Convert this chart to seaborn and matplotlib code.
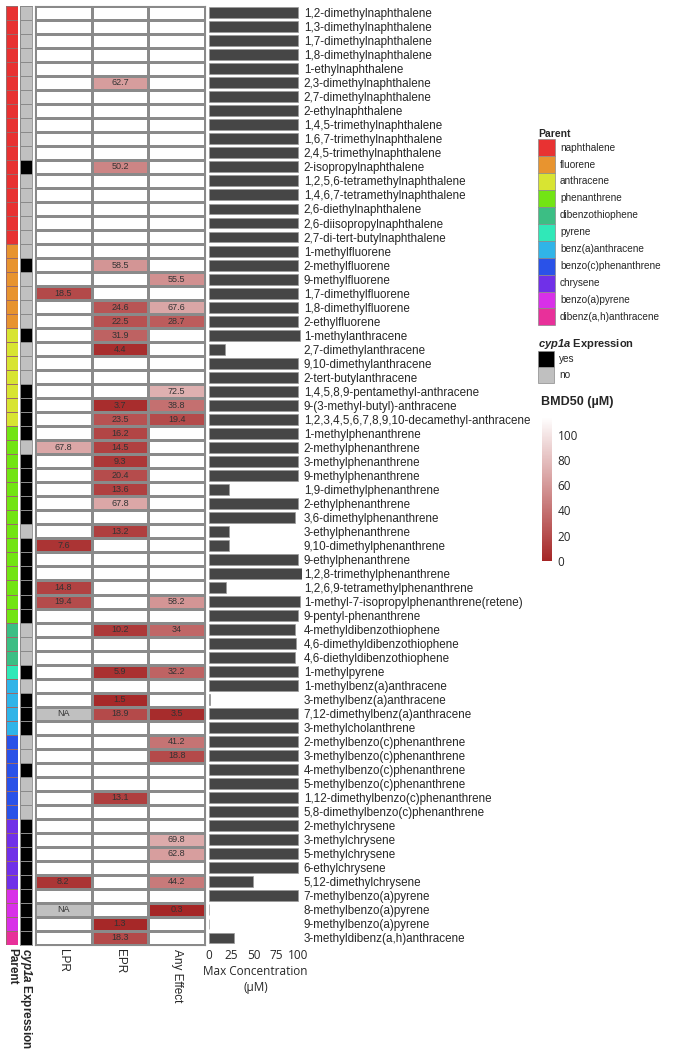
import numpy as np
import pandas as pd
import matplotlib
matplotlib.use("Agg")
import matplotlib.pyplot as plt
import seaborn as sns
from matplotlib.colors import ListedColormap, LinearSegmentedColormap
from matplotlib.patches import Patch

_ = None

compounds = [
    "1,2-dimethylnaphthalene", "1,3-dimethylnaphthalene", "1,7-dimethylnaphthalene",
    "1,8-dimethylnaphthalene", "1-ethylnaphthalene", "2,3-dimethylnaphthalene",
    "2,7-dimethylnaphthalene", "2-ethylnaphthalene", "1,4,5-trimethylnaphthalene",
    "1,6,7-trimethylnaphthalene", "2,4,5-trimethylnaphthalene", "2-isopropylnaphthalene",
    "1,2,5,6-tetramethylnaphthalene", "1,4,6,7-tetramethylnaphthalene", "2,6-diethylnaphthalene",
    "2,6-diisopropylnaphthalene", "2,7-di-tert-butylnaphthalene", "1-methylfluorene",
    "2-methylfluorene", "9-methylfluorene", "1,7-dimethylfluorene", "1,8-dimethylfluorene",
    "2-ethylfluorene", "1-methylanthracene", "2,7-dimethylanthracene", "9,10-dimethylanthracene",
    "2-tert-butylanthracene", "1,4,5,8,9-pentamethyl-anthracene", "9-(3-methyl-butyl)-anthracene",
    "1,2,3,4,5,6,7,8,9,10-decamethyl-anthracene", "1-methylphenanthrene", "2-methylphenanthrene",
    "3-methylphenanthrene", "9-methylphenanthrene", "1,9-dimethylphenanthrene",
    "2-ethylphenanthrene", "3,6-dimethylphenanthrene", "3-ethylphenanthrene",
    "9,10-dimethylphenanthrene", "9-ethylphenanthrene", "1,2,8-trimethylphenanthrene",
    "1,2,6,9-tetramethylphenanthrene", "1-methyl-7-isopropylphenanthrene(retene)",
    "9-pentyl-phenanthrene", "4-methyldibenzothiophene", "4,6-dimethyldibenzothiophene",
    "4,6-diethyldibenzothiophene", "1-methylpyrene", "1-methylbenz(a)anthracene",
    "3-methylbenz(a)anthracene", "7,12-dimethylbenz(a)anthracene", "3-methylcholanthrene",
    "2-methylbenzo(c)phenanthrene", "3-methylbenzo(c)phenanthrene", "4-methylbenzo(c)phenanthrene",
    "5-methylbenzo(c)phenanthrene", "1,12-dimethylbenzo(c)phenanthrene",
    "5,8-dimethylbenzo(c)phenanthrene", "2-methylchrysene", "3-methylchrysene",
    "5-methylchrysene", "6-ethylchrysene", "5,12-dimethylchrysene", "7-methylbenzo(a)pyrene",
    "8-methylbenzo(a)pyrene", "9-methylbenzo(a)pyrene", "3-methyldibenz(a,h)anthracene",
]

parent_order = ["naphthalene", "fluorene", "anthracene", "phenanthrene", "dibenzothiophene",
                "pyrene", "benz(a)anthracene", "benzo(c)phenanthrene", "chrysene",
                "benzo(a)pyrene", "dibenz(a,h)anthracene"]
parent_colors = ["#E83232", "#E8942F", "#D8E432", "#72E414", "#3CBE84", "#30E8B8",
                 "#30B4E8", "#2A52E8", "#7030E8", "#D830E8", "#E8309A"]

parents = [
    "naphthalene", "naphthalene", "naphthalene", "naphthalene", "naphthalene", "naphthalene",
    "naphthalene", "naphthalene", "naphthalene", "naphthalene", "naphthalene", "naphthalene",
    "naphthalene", "naphthalene", "naphthalene", "naphthalene", "naphthalene",
    "fluorene", "fluorene", "fluorene", "fluorene", "fluorene", "fluorene",
    "anthracene", "anthracene", "anthracene", "anthracene", "anthracene", "anthracene", "anthracene",
    "phenanthrene", "phenanthrene", "phenanthrene", "phenanthrene", "phenanthrene", "phenanthrene",
    "phenanthrene", "phenanthrene", "phenanthrene", "phenanthrene", "phenanthrene", "phenanthrene",
    "phenanthrene", "phenanthrene",
    "dibenzothiophene", "dibenzothiophene", "dibenzothiophene",
    "pyrene",
    "benz(a)anthracene", "benz(a)anthracene", "benz(a)anthracene", "benz(a)anthracene",
    "benzo(c)phenanthrene", "benzo(c)phenanthrene", "benzo(c)phenanthrene",
    "benzo(c)phenanthrene", "benzo(c)phenanthrene", "benzo(c)phenanthrene",
    "chrysene", "chrysene", "chrysene", "chrysene", "chrysene",
    "benzo(a)pyrene", "benzo(a)pyrene", "benzo(a)pyrene",
    "dibenz(a,h)anthracene",
]

cyp1a = [
    "no", "no", "no", "no", "no", "no", "no", "no", "no", "no",
    "no", "yes", "no", "no", "no", "no", "no", "no", "yes", "no",
    "no", "no", "no", "yes", "no", "no", "no", "yes", "yes", "yes",
    "yes", "no", "yes", "yes", "yes", "yes", "yes", "no", "yes", "yes",
    "yes", "yes", "yes", "yes", "no", "no", "no", "yes", "no", "yes",
    "yes", "yes", "no", "no", "yes", "no", "no", "no", "yes", "yes",
    "yes", "yes", "yes", "yes", "yes", "yes", "yes",
]

max_conc = [
    100, 100, 100, 100, 100, 100, 100, 100, 100, 100,
    100, 100, 100, 100, 100, 100, 100, 100, 100, 100,
    100, 100, 100, 102, 18, 100, 100, 100, 100, 100,
    100, 100, 100, 100, 22, 99.5, 97, 22, 22, 100,
    104, 19, 102, 100, 97, 98, 97, 100, 100, 0.8,
    100, 100, 100, 100, 100, 100, 100, 100, 100, 100,
    100, 100, 49, 100, 0.5, 0.5, 28,
]

lpr = [
    _, _, _, _, _, _, _, _, _, _,
    _, _, _, _, _, _, _, _, _, _,
    18.5, _, _, _, _, _, _, _, _, _,
    _, 67.8, _, _, _, _, _, _, 7.6, _,
    _, 14.8, 19.4, _, _, _, _, _, _, _,
    "NA", _, _, _, _, _, _, _, _, _,
    _, _, 8.2, _, "NA", _, _,
]
epr = [
    _, _, _, _, _, 62.7, _, _, _, _,
    _, 50.2, _, _, _, _, _, _, 58.5, _,
    _, 24.6, 22.5, 31.9, 4.4, _, _, _, 3.7, 23.5,
    16.2, 14.5, 9.3, 20.4, 13.6, 67.8, _, 13.2, _, _,
    _, _, _, _, 10.2, _, _, 5.9, _, 1.5,
    18.9, _, _, _, _, _, 13.1, _, _, _,
    _, _, _, _, _, 1.3, 18.3,
]
any_effect = [
    _, _, _, _, _, _, _, _, _, _,
    _, _, _, _, _, _, _, _, _, 55.5,
    _, 67.6, 28.7, _, _, _, _, 72.5, 38.8, 19.4,
    _, _, _, _, _, _, _, _, _, _,
    _, _, 58.2, _, 34, _, _, 32.2, _, _,
    3.5, _, 41.2, 18.8, _, _, _, _, _, 69.8,
    62.8, _, 44.2, _, 0.3, _, _,
]

endpoints = ["LPR", "EPR", "Any Effect"]
cbar_ticks = [0, 20, 40, 60, 80, 100]
bar_ticks = [0, 25, 50, 75, 100]

# ---------------------------------------------------------------- style
sns.set_theme(style="white")
plt.rcParams["font.family"] = ["Liberation Sans", "DejaVu Sans"]
plt.rcParams["mathtext.fontset"] = "custom"
plt.rcParams["mathtext.rm"] = "Liberation Sans"
plt.rcParams["mathtext.it"] = "Liberation Sans:italic"
plt.rcParams["mathtext.bf"] = "Liberation Sans:bold"
plt.rcParams["mathtext.bfit"] = "Liberation Sans:italic:bold"

W, H = 680, 1050
fig = plt.figure(figsize=(W / 100, H / 100), dpi=100)


def rect(x0, y0, x1, y1):
    return [x0 / W, 1 - y1 / H, (x1 - x0) / W, (y1 - y0) / H]


TOP, BOT = 5.7, 945.0
n = len(compounds)
GRID = "#8a8a8a"

# ---------------------------------------------------------------- parent column
ax_p = fig.add_axes(rect(6, TOP, 18, BOT))
pcodes = np.array([parent_order.index(p) for p in parents], dtype=float).reshape(-1, 1)
sns.heatmap(pcodes, ax=ax_p, cmap=ListedColormap(parent_colors), vmin=-0.5,
            vmax=len(parent_order) - 0.5, cbar=False, linewidths=0.4, linecolor="#9a6a6a",
            xticklabels=["Parent"], yticklabels=False)
ax_p.set_xticklabels(["Parent"], rotation=-90, fontsize=8.5, fontweight="bold", va="top")
ax_p.tick_params(axis="x", length=0, pad=2)

# ---------------------------------------------------------------- cyp1a column
ax_c = fig.add_axes(rect(20, TOP, 32, BOT))
cdata = np.array([1.0 if c == "yes" else 0.0 for c in cyp1a]).reshape(-1, 1)
sns.heatmap(cdata, ax=ax_c, cmap=ListedColormap(["#C0C0C0", "#000000"]), vmin=0, vmax=1,
            cbar=False, linewidths=0.6, linecolor=GRID, xticklabels=["x"], yticklabels=False)
ax_c.set_xticklabels([r"$\mathbfit{cyp1a}$ Expression"], rotation=-90, fontsize=8.5,
                     fontweight="bold", va="top")
ax_c.tick_params(axis="x", length=0, pad=2)
for s in ax_c.spines.values():
    s.set_visible(True)
    s.set_color(GRID)
    s.set_linewidth(0.6)

# ---------------------------------------------------------------- BMD50 heatmap
ax_h = fig.add_axes(rect(35, TOP, 205, BOT))
cax = fig.add_axes(rect(542, 417, 552, 561))


def num(v):
    return np.nan if (v is None or v == "NA") else float(v)


def lab(v):
    if v is None:
        return ""
    if v == "NA":
        return "NA"
    return f"{v:g}"


cols = [lpr, epr, any_effect]
vals = np.array([[num(c[i]) for c in cols] for i in range(n)])
annot = np.array([[lab(c[i]) for c in cols] for i in range(n)])
na_mask = np.array([[c[i] == "NA" for c in cols] for i in range(n)])

sns.heatmap(np.zeros((n, 3)), ax=ax_h, cmap=ListedColormap(["white"]), cbar=False,
            linewidths=0.8, linecolor=GRID, xticklabels=endpoints, yticklabels=False)
bmd_cmap = LinearSegmentedColormap.from_list("bmd", ["#A52626", "#FFFFFF"])
sns.heatmap(vals, ax=ax_h, mask=np.isnan(vals), cmap=bmd_cmap, vmin=0, vmax=114,
            cbar_ax=cax, cbar_kws={"ticks": cbar_ticks}, linewidths=0.8, linecolor=GRID,
            annot=annot, fmt="", annot_kws={"size": 6.5, "color": "#333333"},
            xticklabels=endpoints, yticklabels=False)
sns.heatmap(np.zeros((n, 3)), ax=ax_h, mask=~na_mask, cmap=ListedColormap(["#C0C0C0"]),
            cbar=False, linewidths=0.8, linecolor=GRID, annot=annot, fmt="",
            annot_kws={"size": 6.5, "color": "#333333"},
            xticklabels=endpoints, yticklabels=False)
ax_h.set_xticklabels(endpoints, rotation=-90, fontsize=8.5, va="top")
ax_h.tick_params(axis="x", length=0, pad=3)
for s in ax_h.spines.values():
    s.set_visible(True)
    s.set_color(GRID)
    s.set_linewidth(0.8)

cax.tick_params(length=0, labelsize=8.5, pad=4)
for t in cax.get_yticklabels():
    t.set_fontfamily("Open Sans")
for s in cax.spines.values():
    s.set_visible(False)
fig.text(541 / W, 1 - 402 / H, "BMD50 (µM)", fontsize=9, fontweight="bold",
         ha="left", va="center")

# ---------------------------------------------------------------- max concentration bars
ax_b = fig.add_axes(rect(209, TOP, 209 + 105 * 0.89, BOT))
df = pd.DataFrame({"compound": compounds, "max_conc": max_conc})
sns.barplot(data=df, x="max_conc", y="compound", ax=ax_b, color="#464646", saturation=1,
            edgecolor="#9a9a9a", linewidth=0.5, width=0.78, orient="h")
ax_b.set_xlim(0, 105)
ax_b.set_ylim(n - 0.5, -0.5)
for s in ax_b.spines.values():
    s.set_visible(False)
ax_b.set_xticks(bar_ticks)
ax_b.set_xticklabels([str(t) for t in bar_ticks], fontsize=8.5, fontfamily="Open Sans")
ax_b.set_xlabel("Max Concentration\n(µM)", fontsize=8.5, fontfamily="Open Sans",
                labelpad=2, linespacing=1.3)
ax_b.set_ylabel("")
ax_b.yaxis.tick_right()
ax_b.tick_params(axis="y", length=0, pad=1, labelsize=8.4)
ax_b.tick_params(axis="x", length=0, pad=3)
ax_b.grid(False)

# ---------------------------------------------------------------- legends
ph = [Patch(facecolor=c, edgecolor="#8a8a8a", linewidth=0.5) for c in parent_colors]
leg1 = fig.legend(ph, parent_order, loc="upper left", bbox_to_anchor=(538 / W, 1 - 129 / H),
                  frameon=False, fontsize=7.2, title="Parent",
                  title_fontproperties={"weight": "bold", "size": 7.5},
                  handlelength=1.7, handleheight=2.23, labelspacing=0, handletextpad=0.5,
                  borderpad=0, borderaxespad=0, alignment="left")

ch = [Patch(facecolor="#000000", edgecolor="#8a8a8a", linewidth=0.5),
      Patch(facecolor="#C0C0C0", edgecolor="#8a8a8a", linewidth=0.5)]
leg2 = fig.legend(ch, ["yes", "no"], loc="upper left", bbox_to_anchor=(538 / W, 1 - 337 / H),
                  frameon=False, fontsize=7.2, title=r"$\mathbfit{cyp1a}$ Expression",
                  title_fontproperties={"weight": "bold", "size": 8},
                  handlelength=1.6, handleheight=2.08, labelspacing=0, handletextpad=0.5,
                  borderpad=0, borderaxespad=0, alignment="left")

fig.savefig("out.png", dpi=100, facecolor="white")
